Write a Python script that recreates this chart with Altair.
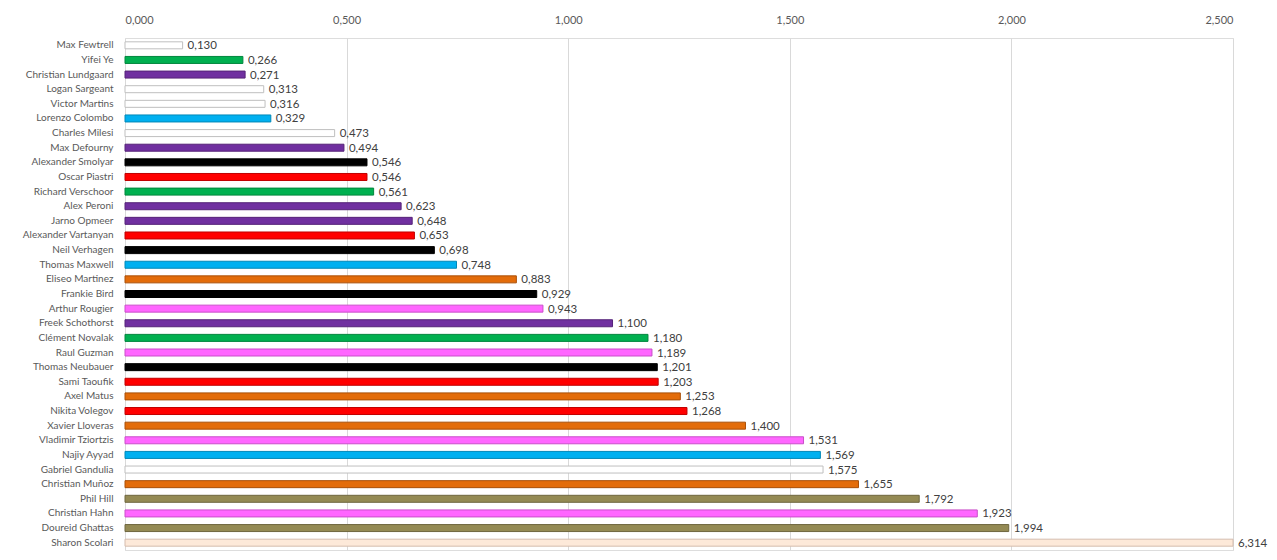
import altair as alt
import pandas as pd

drivers = [
    "Max Fewtrell", "Yifei Ye", "Christian Lundgaard", "Logan Sargeant", "Victor Martins",
    "Lorenzo Colombo", "Charles Milesi", "Max Defourny", "Alexander Smolyar", "Oscar Piastri",
    "Richard Verschoor", "Alex Peroni", "Jarno Opmeer", "Alexander Vartanyan", "Neil Verhagen",
    "Thomas Maxwell", "Eliseo Martinez", "Frankie Bird", "Arthur Rougier", "Freek Schothorst",
    "Clément Novalak", "Raul Guzman", "Thomas Neubauer", "Sami Taoufik", "Axel Matus",
    "Nikita Volegov", "Xavier Lloveras", "Vladimir Tziortzis", "Najiy Ayyad", "Gabriel Gandulia",
    "Christian Muñoz", "Phil Hill", "Christian Hahn", "Doureid Ghattas", "Sharon Scolari",
]
values = [
    0.130, 0.266, 0.271, 0.313, 0.316,
    0.329, 0.473, 0.494, 0.546, 0.546,
    0.561, 0.623, 0.648, 0.653, 0.698,
    0.748, 0.883, 0.929, 0.943, 1.100,
    1.180, 1.189, 1.201, 1.203, 1.253,
    1.268, 1.400, 1.531, 1.569, 1.575,
    1.655, 1.792, 1.923, 1.994, 6.314,
]
groups = [
    "white", "green", "purple", "white", "white",
    "cyan", "white", "purple", "black", "red",
    "green", "purple", "purple", "red", "black",
    "cyan", "orange", "black", "pink", "purple",
    "green", "pink", "black", "red", "orange",
    "red", "orange", "pink", "cyan", "white",
    "orange", "olive", "pink", "olive", "peach",
]
x_ticks = [0, 0.5, 1.0, 1.5, 2.0, 2.5]

fill_map = {
    "white": "#ffffff", "green": "#00b050", "purple": "#7030a0", "cyan": "#00b0f0",
    "black": "#000000", "red": "#ff0000", "orange": "#e36c0a", "pink": "#ff66ff",
    "olive": "#948a54", "peach": "#fde9d9",
}
stroke_map = {
    "white": "#bfbfbf", "green": "#00863d", "purple": "#552378", "cyan": "#0088b8",
    "black": "#000000", "red": "#c00000", "orange": "#a94f07", "pink": "#c94ec9",
    "olive": "#6f673f", "peach": "#d5bcae",
}
gkeys = list(fill_map.keys())

df = pd.DataFrame({
    "driver": drivers,
    "value": values,
    "group": groups,
    "label": [f"{v:.3f}".replace(".", ",") for v in values],
})

FONT = "Lato"
TXT = "#595959"

y_enc = alt.Y(
    "driver:N", sort=drivers, title=None,
    scale=alt.Scale(paddingInner=0.5, paddingOuter=0.25),
    axis=alt.Axis(ticks=False, domain=False, labelFont=FONT, labelFontSize=10,
                  labelColor=TXT, labelPadding=12, minExtent=111, maxExtent=111),
)
x_scale = alt.Scale(domain=[0, 2.5], clamp=True, nice=False)
x_enc = alt.X(
    "value:Q", scale=x_scale, title=None,
    axis=alt.Axis(orient="top", values=x_ticks, ticks=False, tickSize=0, domain=False,
                  labelFont=FONT, labelFontSize=11, labelColor=TXT, labelPadding=13,
                  labelExpr="replace(format(datum.value, '.3f'), '.', ',')",
                  grid=True, gridColor="#d9d9d9", gridWidth=1),
)

bars = alt.Chart(df).mark_bar(size=7, strokeWidth=1).encode(
    x=x_enc,
    y=y_enc,
    fill=alt.Fill("group:N", scale=alt.Scale(domain=gkeys, range=[fill_map[k] for k in gkeys]), legend=None),
    stroke=alt.Stroke("group:N", scale=alt.Scale(domain=gkeys, range=[stroke_map[k] for k in gkeys]), legend=None),
)

labels = alt.Chart(df).mark_text(align="left", baseline="middle", dx=5, dy=1, font=FONT,
                                 fontSize=11.5, color="#404040").encode(
    x=alt.X("value:Q", scale=x_scale),
    y=alt.Y("driver:N", sort=drivers),
    text="label:N",
)

chart = (bars + labels).properties(
    width=1108, height=512,
    padding={"left": 6, "top": 6, "right": 0, "bottom": 5},
).configure_view(stroke=None).configure(background="#ffffff")

chart.save("out.html", embed_options={"renderer": "svg", "actions": False})
